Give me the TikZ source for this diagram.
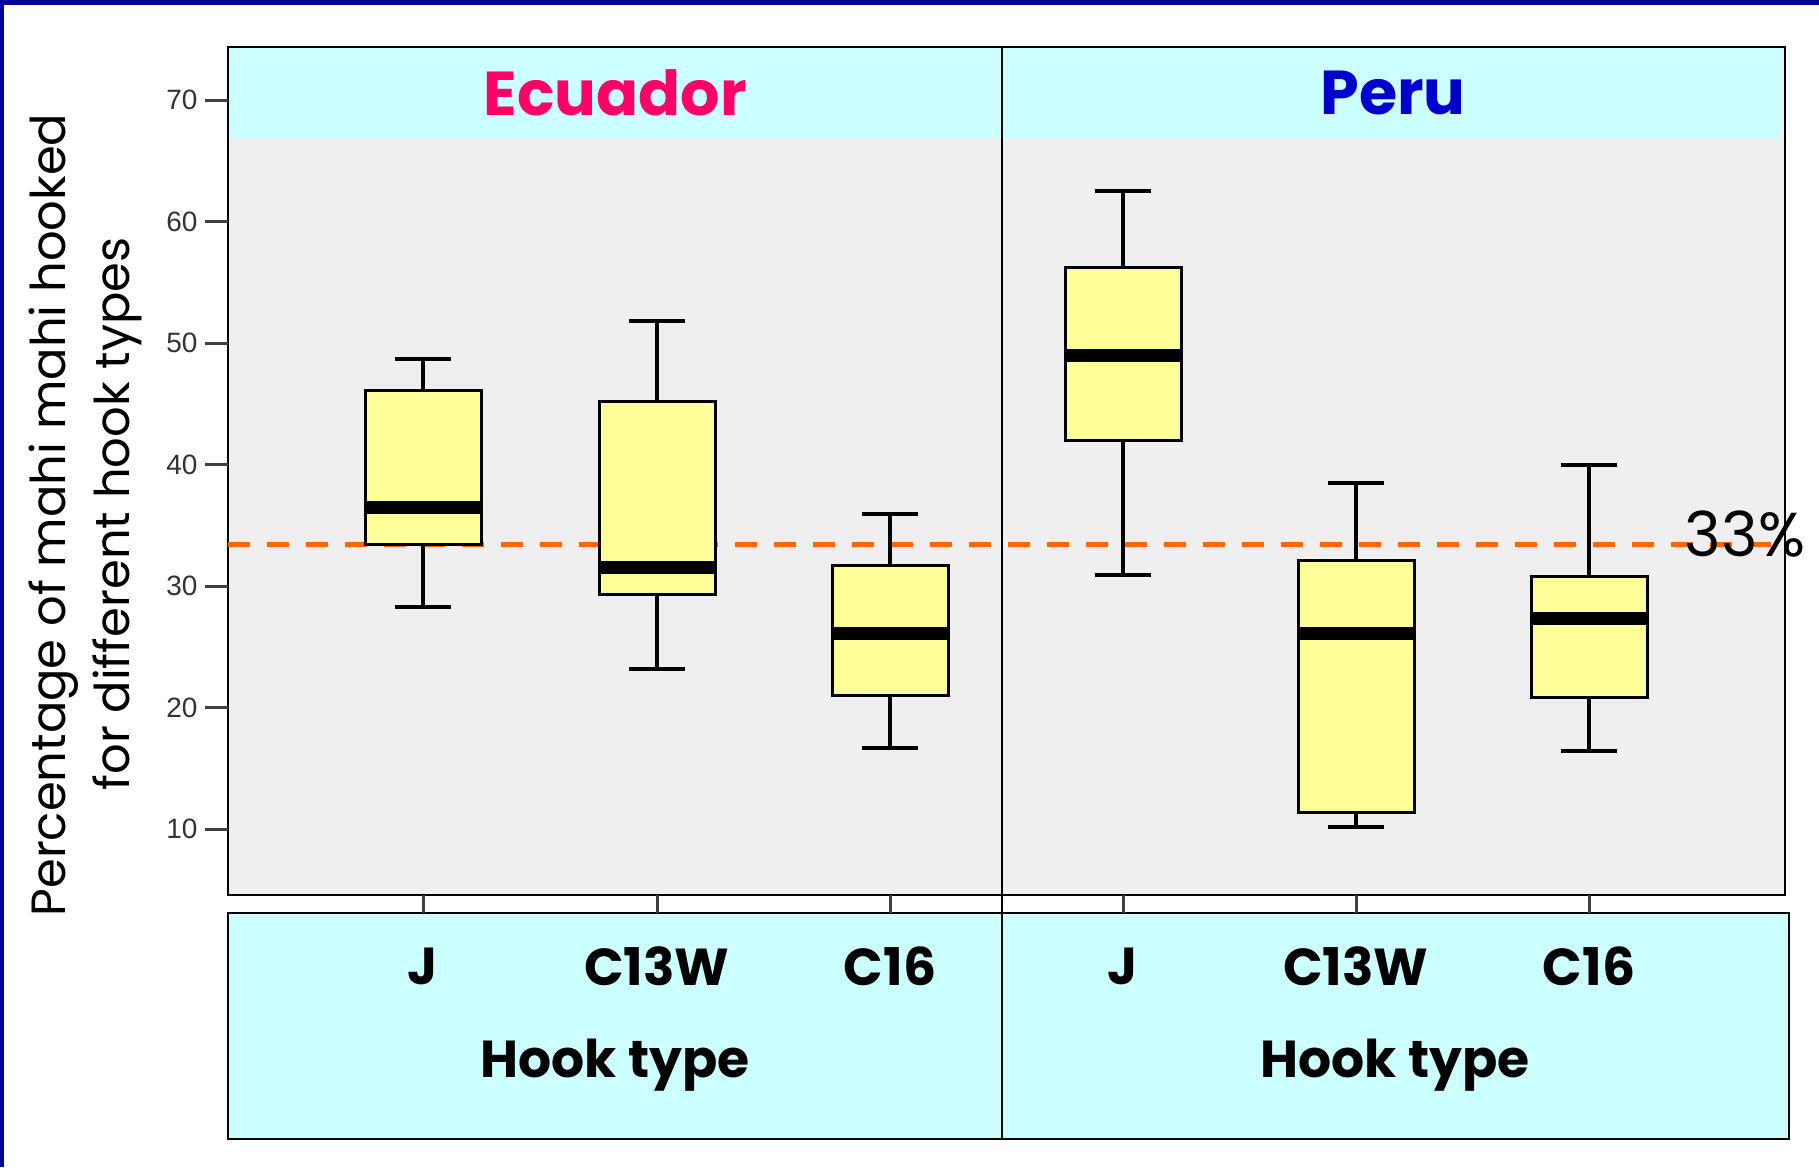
\documentclass[tikz,border=0pt]{standalone}
\usepackage{fontspec}
\setmainfont{Poppins}
\newfontfamily\tickfont{Liberation Sans}
\usetikzlibrary{positioning}
\definecolor{slideblue}{HTML}{000099}
\definecolor{stripcyan}{HTML}{CCFFFF}
\definecolor{plotgray}{HTML}{EFEFEF}
\definecolor{boxyellow}{HTML}{FFFF99}
\definecolor{refline}{HTML}{FF6600}
\definecolor{ecuadorpink}{HTML}{FF0066}
\definecolor{perublue}{HTML}{0000CC}
\tikzset{
    x=1pt, y=-1pt, % one unit is one pixel of the slide, y runs down
    frame/.style={draw=black, line width=2.5pt}, % panel outlines
    boxbody/.style={draw=black, line width=3pt, fill=boxyellow}, % the quartile boxes
    whisker/.style={line width=4pt},
    median/.style={line width=13pt},
    tickmark/.style={draw=black!75, line width=3pt},
    ticklabel/.style={anchor=east, text=black!80, font=\tickfont\fontsize{28}{30}\selectfont},
    catlabel/.style={font=\bfseries\fontsize{52}{56}\selectfont},
    paneltitle/.style={font=\bfseries\fontsize{62}{66}\selectfont},
    axistitle/.style={rotate=90, font=\fontsize{48}{52}\selectfont},
}
% value -> pixel row
\newcommand{\valrow}[1]{\pgfmathparse{100+(70-#1)*12.15}}

\begin{document}
\begin{tikzpicture}
\useasboundingbox (0,0) rectangle (1819,1167);
\fill[white] (0,0) rectangle (1819,1167);
% slide border
\fill[slideblue] (0,0) rectangle (1819,5);
\fill[slideblue] (0,0) rectangle (4,1167);

% plot area and strips
\fill[plotgray] (228,47) rectangle (1785,895);
\fill[stripcyan] (228,47) rectangle (1781,138);
\fill[stripcyan] (228,913) rectangle (1789,1139);
\draw[frame] (228,47) rectangle (1785,895);
\draw[frame] (228,913) rectangle (1789,1139);
\draw[frame] (1002,47) -- (1002,1139);

% y axis
\foreach \v in {10,20,...,70} {
    \valrow{\v}\let\yy\pgfmathresult
    \draw[tickmark] (205,\yy) -- (228,\yy);
    \node[ticklabel] (tick\v) at (201,\yy) {\v};
}

% reference line
\valrow{33.4}\let\yref\pgfmathresult
\draw[refline, line width=5pt, dash pattern=on 22pt off 17pt] (228,\yref) -- (1785,\yref);
\node[font=\fontsize{62}{66}\selectfont] (pct) at (1745,534) {33\%};

% boxes: centre / low whisker / q1 / median / q3 / high whisker
\foreach \cx/\lo/\qa/\md/\qb/\hi/\nm in {
    423/28.3/33.4/36.5/46.1/48.7/ej,
    657/23.2/29.3/31.5/45.2/51.8/ec,
    890/16.7/21.0/26.1/31.7/35.9/eg,
    1123/30.9/42.0/49.0/56.2/62.5/pj,
    1356/10.2/11.4/26.1/32.1/38.5/pc,
    1589/16.4/20.8/27.3/30.8/40.0/pg} {
    \valrow{\lo}\let\ylo\pgfmathresult
    \valrow{\qa}\let\yqa\pgfmathresult
    \valrow{\md}\let\ymd\pgfmathresult
    \valrow{\qb}\let\yqb\pgfmathresult
    \valrow{\hi}\let\yhi\pgfmathresult
    \draw[whisker] (\cx,\ylo) -- (\cx,\yhi);
    \draw[whisker] (\cx-28,\ylo) -- (\cx+28,\ylo);
    \draw[whisker] (\cx-28,\yhi) -- (\cx+28,\yhi);
    \draw[boxbody] (\cx-58,\yqa) rectangle (\cx+58,\yqb);
    \draw[median] (\cx-58,\ymd) -- (\cx+58,\ymd);
    \draw[tickmark] (\cx,895) -- (\cx,913);
    \coordinate (\nm) at (\cx,966);
}

% category and axis labels
\node[catlabel] (lej) at (ej) {J};
\node[catlabel] (lec) at (ec) {C13W};
\node[catlabel] (leg) at (eg) {C16};
\node[catlabel] (lpj) at (pj) {J};
\node[catlabel] (lpc) at (pc) {C13W};
\node[catlabel] (lpg) at (pg) {C16};
\node[catlabel] (ehook) at (615,1065) {Hook type};
\node[catlabel] (phook) at (1395,1065) {Hook type};

% panel titles
\node[paneltitle, text=ecuadorpink] (ecuador) at (615,93) {Ecuador};
\node[paneltitle, text=perublue] (peru) at (1393,93) {Peru};

% y axis title
\node[axistitle] (ylab1) at (54,515) {Percentage of mahi mahi hooked};
\node[axistitle] (ylab2) at (117,514) {for different hook types};
\end{tikzpicture}
\end{document}
